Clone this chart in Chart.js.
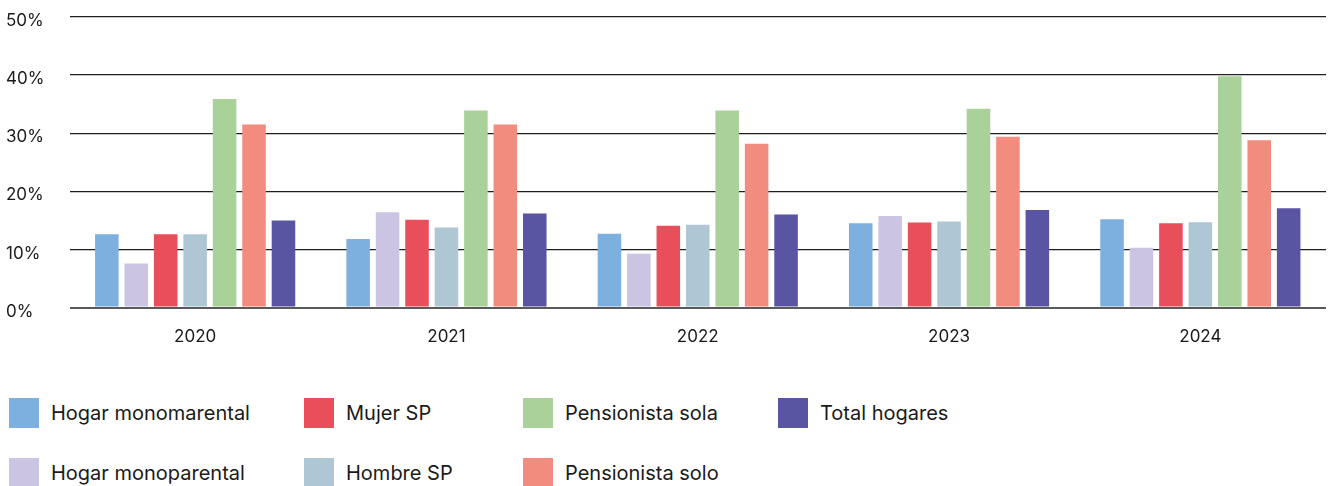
<!DOCTYPE html>
<html lang="es">
<head>
<meta charset="utf-8">
<title>Hogares</title>
<script src="https://cdn.jsdelivr.net/npm/chart.js@4.4.1/dist/chart.umd.min.js"></script>
<style>
  html, body { margin: 0; padding: 0; background: #ffffff; }
  #wrap { position: relative; width: 1330px; height: 486px; overflow: hidden; font-family: Inter, "Noto Sans", sans-serif; }
  #chartBox { position: absolute; left: 0; top: 0; width: 1330px; height: 358px; }
  #legend { position: absolute; left: 9px; top: 398px; display: grid;
            grid-template-columns: 295px 219px 255px 300px; grid-auto-flow: column;
            grid-template-rows: 30px 30px; row-gap: 30px; }
  .item { display: flex; align-items: center; height: 30px; }
  .sw { width: 30px; height: 30px; flex: 0 0 30px; margin-right: 12px; }
  .txt { font-size: 20px; color: #1a1a1a; white-space: nowrap; }
</style>
</head>
<body>
<div id="wrap">
  <div id="chartBox"><canvas id="c"></canvas></div>
  <div id="legend"></div>
</div>
<script>
const years = ['2020', '2021', '2022', '2023', '2024'];
const yTicks = [0, 10, 20, 30, 40, 50];

const hogarMonomarental = [12.6, 11.8, 12.7, 14.5, 15.2];
const hogarMonoparental = [7.6, 16.4, 9.25, 15.75, 10.3];
const mujerSP = [12.6, 15.1, 14.1, 14.65, 14.5];
const hombreSP = [12.6, 13.8, 14.25, 14.8, 14.7];
const pensionistaSola = [35.9, 33.9, 33.9, 34.2, 39.8];
const pensionistaSolo = [31.5, 31.5, 28.2, 29.4, 28.8];
const totalHogares = [15.0, 16.2, 16.0, 16.8, 17.1];

const seriesNames = ['Hogar monomarental', 'Hogar monoparental', 'Mujer SP', 'Hombre SP',
                     'Pensionista sola', 'Pensionista solo', 'Total hogares'];
const seriesColors = ['#7DB0DE', '#CBC5E3', '#E94E5B', '#AFC6D4', '#ABD19B', '#F18C7E', '#5A55A2'];
const seriesValues = [hogarMonomarental, hogarMonoparental, mujerSP, hombreSP,
                      pensionistaSola, pensionistaSolo, totalHogares];

const datasets = seriesNames.map((name, i) => ({
  label: name,
  data: seriesValues[i],
  backgroundColor: seriesColors[i],
  borderWidth: 0,
  categoryPercentage: 0.82,
  barPercentage: 0.8
}));

const chart = new Chart(document.getElementById('c'), {
  type: 'bar',
  data: { labels: years, datasets },
  options: {
    responsive: true,
    maintainAspectRatio: false,
    animation: false,
    layout: { padding: { left: 6, right: 4, top: 17, bottom: 0 } },
    plugins: { legend: { display: false }, tooltip: { enabled: false } },
    scales: {
      x: {
        grid: { display: false },
        border: { display: false },
        ticks: { color: '#1a1a1a', padding: 11, font: { family: 'Inter', size: 17 } }
      },
      y: {
        min: 0,
        max: 50,
        afterBuildTicks: (scale) => { scale.ticks = yTicks.map(v => ({ value: v })); },
        afterFit: (scale) => { scale.width = 63.5; },
        grid: {
          drawTicks: false,
          color: (ctx) => ctx.tick && ctx.tick.value === 0 ? '#5a5a5a' : '#1e1e1e',
          lineWidth: (ctx) => ctx.tick && ctx.tick.value === 0 ? 2 : 1.3
        },
        border: { display: false },
        ticks: {
          crossAlign: 'far',
          labelOffset: 4,
          color: '#1a1a1a',
          font: { family: 'Inter', size: 17 },
          callback: (v) => v + '%'
        }
      }
    }
  }
});

// HTML legend in two rows, filled column by column
const legend = document.getElementById('legend');
chart.data.datasets.forEach((ds) => {
  const item = document.createElement('div');
  item.className = 'item';
  const sw = document.createElement('span');
  sw.className = 'sw';
  sw.style.background = ds.backgroundColor;
  const txt = document.createElement('span');
  txt.className = 'txt';
  txt.textContent = ds.label;
  item.appendChild(sw);
  item.appendChild(txt);
  legend.appendChild(item);
});
</script>
</body>
</html>
